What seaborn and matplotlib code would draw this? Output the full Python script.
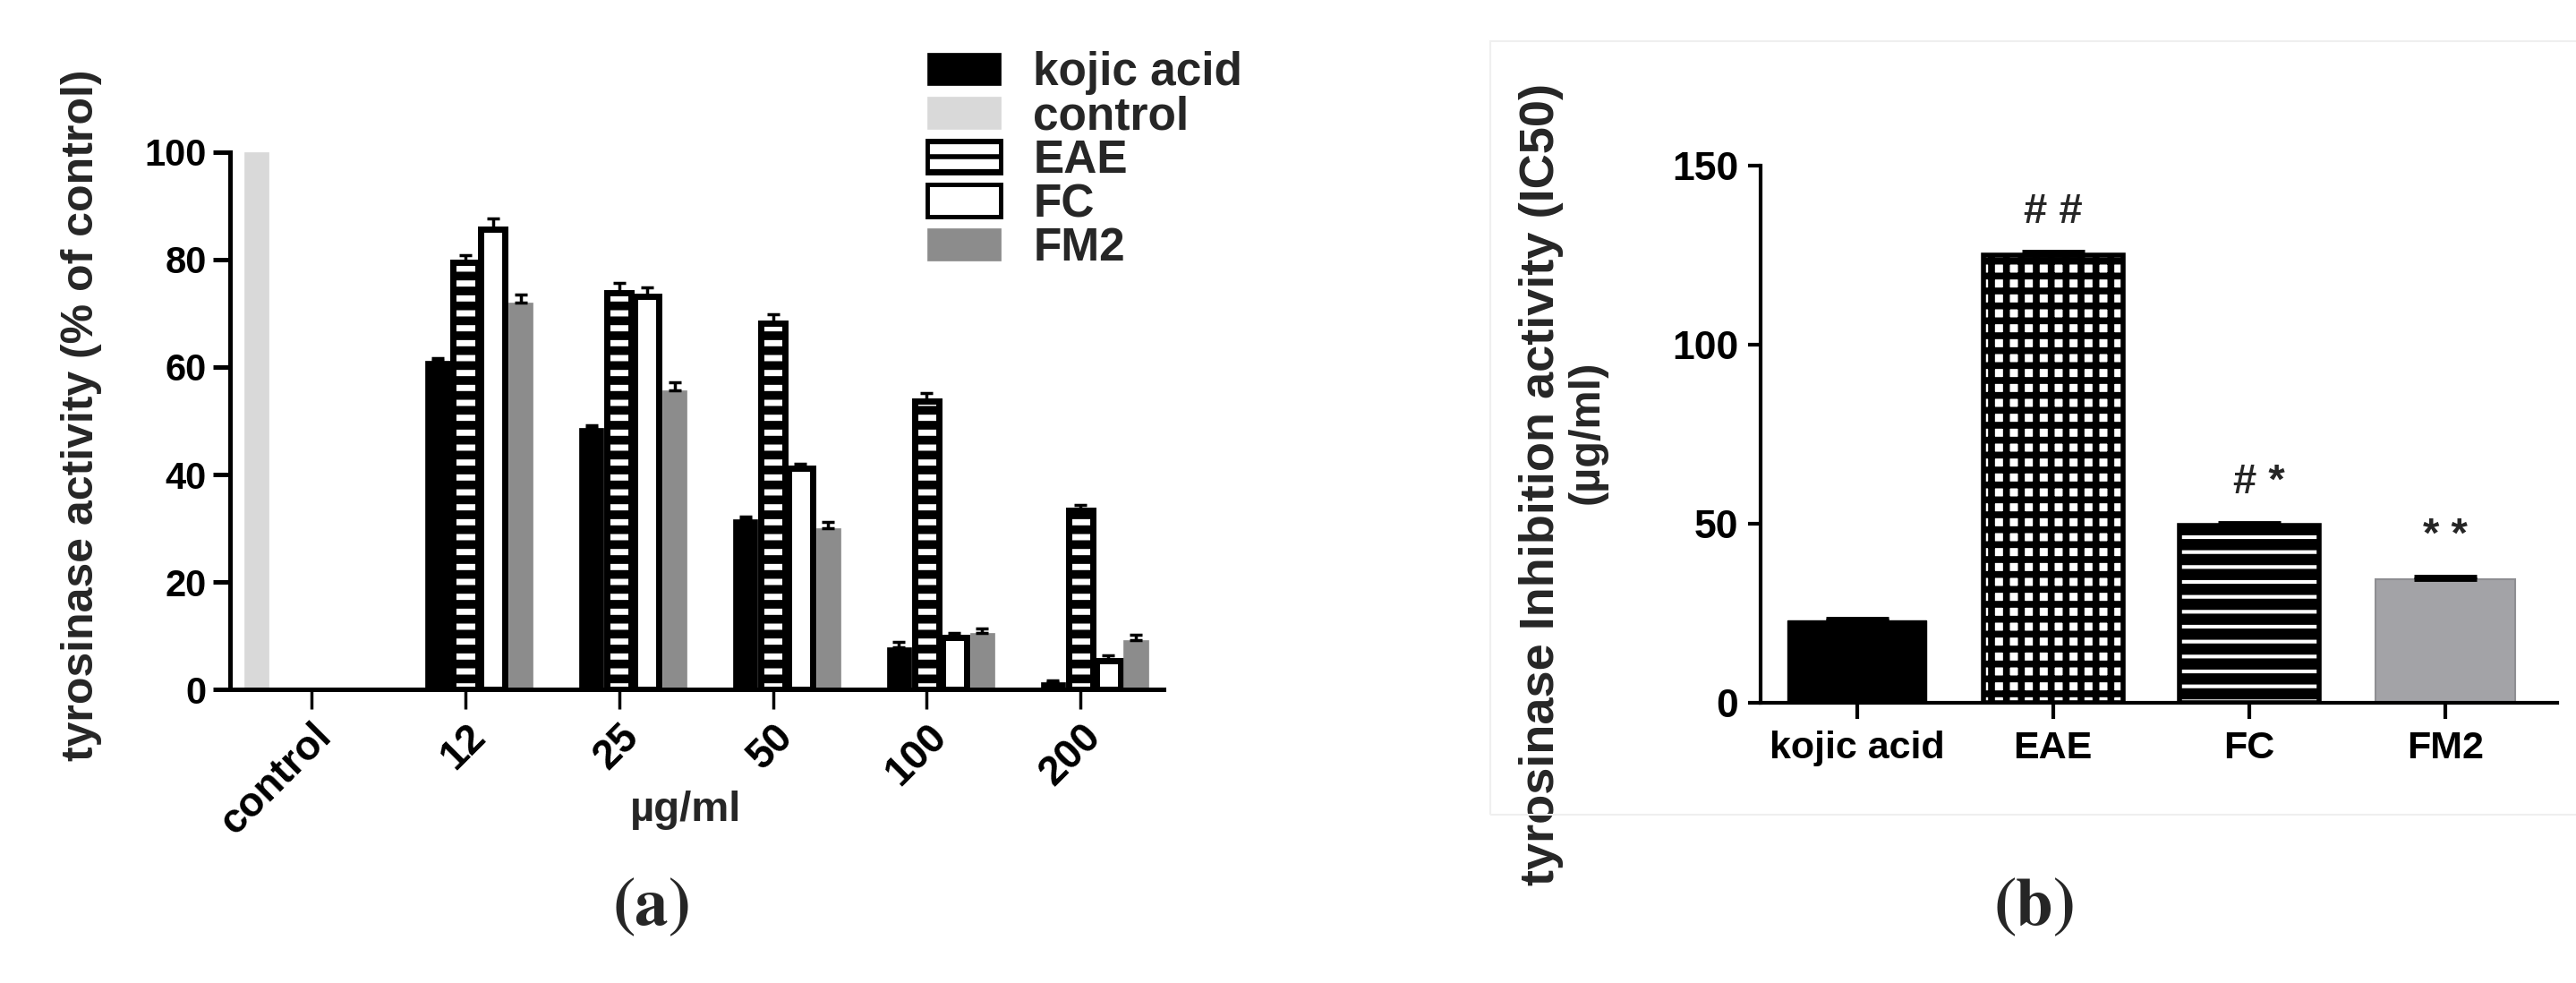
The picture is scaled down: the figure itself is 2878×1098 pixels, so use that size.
import numpy as np
import pandas as pd
import seaborn as sns
import matplotlib.pyplot as plt
import matplotlib.patches as mpatches
from matplotlib import font_manager

# panel (a): tyrosinase activity (% of control) per dose
doses = ["12", "25", "50", "100", "200"]
kojic_act = [61.2, 48.6, 31.7, 7.8, 1.3]
eae_act = [79.5, 73.9, 68.1, 53.6, 33.3]
fc_act = [85.7, 73.1, 41.2, 9.7, 5.4]
fm2_act = [72.0, 55.6, 30.0, 10.5, 9.2]
kojic_err = [0.5, 0.6, 0.5, 1.0, 0.3]
eae_err = [1.3, 1.8, 1.8, 1.5, 1.0]
fc_err = [2.0, 1.8, 0.8, 0.8, 1.0]
fm2_err = [1.5, 1.6, 1.2, 0.8, 1.0]
control_act = 100.0

# panel (b): IC50
samples = ["kojic acid", "EAE", "FC", "FM2"]
ic50 = [23.0, 125.0, 49.5, 34.5]
ic50_err = [0.5, 1.0, 0.8, 0.8]
marks = ["", "# #", "# *", "* *"]

sns.set_theme(style="ticks")
installed = {f.name for f in font_manager.fontManager.ttflist}
SANS = "Liberation Sans" if "Liberation Sans" in installed else "DejaVu Sans"
NARROW = "Liberation Sans Narrow" if "Liberation Sans Narrow" in installed else SANS
plt.rcParams["font.family"] = [SANS, "DejaVu Sans"]
plt.rcParams["font.weight"] = "bold"
plt.rcParams["mathtext.fontset"] = "stix"
plt.rcParams["hatch.linewidth"] = 4.0


def hatch_lw(patch, lw):
    if hasattr(patch, "set_hatch_linewidth"):
        patch.set_hatch_linewidth(lw)


# long table for panel (a)
rows = [{"dose": "control", "sample": "control", "activity": control_act, "err": 0.0}]
for name, vals, errs in [("kojic acid", kojic_act, kojic_err), ("EAE", eae_act, eae_err),
                         ("FC", fc_act, fc_err), ("FM2", fm2_act, fm2_err)]:
    for d, v, e in zip(doses, vals, errs):
        rows.append({"dose": d, "sample": name, "activity": v, "err": e})
df_a = pd.DataFrame(rows)

hue_order = ["control", "kojic acid", "EAE", "FC", "FM2"]
legend_order = ["kojic acid", "control", "EAE", "FC", "FM2"]
style_a = {
    "kojic acid": dict(facecolor="black", edgecolor="black", linewidth=0.5, hatch=None, hlw=1),
    "control": dict(facecolor="#d9d9d9", edgecolor="#d9d9d9", linewidth=0.5, hatch=None, hlw=1),
    "EAE": dict(facecolor="white", edgecolor="black", linewidth=5.0, hatch="-", hlw=7.0),
    "FC": dict(facecolor="white", edgecolor="black", linewidth=5.0, hatch=None, hlw=1),
    "FM2": dict(facecolor="#8c8c8c", edgecolor="#8c8c8c", linewidth=0.5, hatch=None, hlw=1),
}

fig = plt.figure(figsize=(28.78, 10.98), dpi=100)
ax_a = fig.add_axes([0.0893, 0.2987, 0.3624, 0.5465])
ax_b = fig.add_axes([0.6835, 0.285, 0.3092, 0.5465])

sns.barplot(data=df_a, x="dose", y="activity", hue="sample",
            order=["control"] + doses, hue_order=hue_order,
            palette={k: v["facecolor"] for k, v in style_a.items()},
            width=0.9, gap=0.12, errorbar=None, saturation=1, legend=False, ax=ax_a)

for container, name in zip(ax_a.containers, hue_order):
    st = style_a[name]
    sub = df_a[df_a["sample"] == name]
    for p in container:
        p.set_edgecolor(st["edgecolor"])
        p.set_linewidth(st["linewidth"])
        if st["hatch"]:
            p.set_hatch(st["hatch"])
            hatch_lw(p, st["hlw"])
    xs = [p.get_x() + p.get_width() / 2 for p in container]
    hs = [p.get_height() for p in container]
    errs = sub["err"].to_numpy()
    if errs.sum() > 0:
        ax_a.errorbar(xs, hs, yerr=[np.zeros_like(errs), errs], fmt="none",
                      ecolor="black", elinewidth=2.5, capsize=5, capthick=2.5, zorder=1)

ax_a.set_ylim(0, 100)
ax_a.set_yticks(range(0, 101, 20))
ax_a.set_xlim(-0.53, 5.54)
sns.despine(ax=ax_a)
for s in ["left", "bottom"]:
    ax_a.spines[s].set_linewidth(3.6)
    ax_a.spines[s].set_color("black")
ax_a.tick_params(axis="y", length=14, width=3.6, labelsize=30, pad=5, colors="black")
ax_a.tick_params(axis="x", length=16, width=2.5, labelsize=33, pad=6, colors="black")
for lab in ax_a.get_xticklabels():
    lab.set_rotation(45)
    lab.set_ha("right")
    lab.set_rotation_mode("anchor")
    lab.set_fontweight("bold")
for lab in ax_a.get_yticklabels():
    lab.set_fontweight("bold")
ax_a.set_ylabel("tyrosinase activity (% of control)", fontsize=36, fontweight="bold", va="center")
ax_a.yaxis.set_label_coords(-0.159, 0.51)
ax_a.set_xlabel("µg/ml", fontsize=34, fontweight="bold", va="center")
ax_a.xaxis.set_label_coords(0.488, -0.225)

handles = []
for name in legend_order:
    st = style_a[name]
    h = mpatches.Patch(facecolor=st["facecolor"], edgecolor=st["edgecolor"],
                       linewidth=min(st["linewidth"], 3.5), hatch=st["hatch"])
    hatch_lw(h, 4.0)
    handles.append(h)
fig.legend(handles, legend_order, loc="upper left", bbox_to_anchor=(0.360, 0.948),
           frameon=False, handlelength=1.6, handleheight=0.7, handletextpad=0.7,
           labelspacing=0.0, borderpad=0, borderaxespad=0,
           prop=dict(family=SANS, weight="bold", size=37))

# panel (b)
style_b = {
    "kojic acid": dict(facecolor="black", edgecolor="black", linewidth=1, hatch=None, hlw=1),
    "EAE": dict(facecolor="white", edgecolor="black", linewidth=4.0, hatch="+", hlw=5.5),
    "FC": dict(facecolor="white", edgecolor="black", linewidth=4.0, hatch="-", hlw=9.0),
    "FM2": dict(facecolor="#a3a3a7", edgecolor="#8e8e92", linewidth=1.5, hatch=None, hlw=1),
}
df_b = pd.DataFrame({"sample": samples, "ic50": ic50, "err": ic50_err})
sns.barplot(data=df_b, x="sample", y="ic50", hue="sample", order=samples, hue_order=samples,
            palette={k: v["facecolor"] for k, v in style_b.items()},
            width=0.71, errorbar=None, saturation=1, legend=False, ax=ax_b)
for p, name in zip(ax_b.patches, samples):
    st = style_b[name]
    p.set_edgecolor(st["edgecolor"])
    p.set_linewidth(st["linewidth"])
    if st["hatch"]:
        p.set_hatch(st["hatch"])
        hatch_lw(p, st["hlw"])

xb = [p.get_x() + p.get_width() / 2 for p in ax_b.patches]
hb = [p.get_height() for p in ax_b.patches]
ax_b.errorbar(xb, hb, yerr=[np.zeros(len(ic50_err)), ic50_err], fmt="none",
              ecolor="black", elinewidth=3.5, capsize=25, capthick=3.5)
for x, h, m in zip(xb, hb, marks):
    if m:
        ax_b.text(x + (0.05 if "#" in m and "*" in m else 0), h + 12, m, ha="center", va="center",
                  fontsize=34, fontweight="bold", family=NARROW)

ax_b.set_ylim(0, 150)
ax_b.set_yticks([0, 50, 100, 150])
ax_b.set_xlim(-0.49, 3.57)
sns.despine(ax=ax_b)
for s in ["left", "bottom"]:
    ax_b.spines[s].set_linewidth(3.0)
    ax_b.spines[s].set_color("black")
ax_b.tick_params(axis="y", length=10, width=3, labelsize=32, pad=8, colors="black")
ax_b.tick_params(axis="x", length=13, width=3, labelsize=31, pad=9, colors="black")
for lab in ax_b.get_xticklabels() + ax_b.get_yticklabels():
    lab.set_family(NARROW)
    lab.set_fontweight("bold")
ax_b.set_xlabel("")
ax_b.set_ylabel("tyrosinase Inhibition activity (IC50)", fontsize=39,
                fontweight="bold", va="center")
ax_b.yaxis.set_label_coords(-0.276, 0.407)
ax_b.text(-0.218, 0.503, "(µg/ml)", transform=ax_b.transAxes, rotation=90,
          ha="center", va="center", fontsize=35, fontweight="bold")

# faint frame around panel (b)
fig.patches.append(mpatches.Rectangle((1665 / 2878, 1 - 910 / 1098), 1.0, 864 / 1098,
                                      transform=fig.transFigure, fill=False,
                                      edgecolor="#efefef", linewidth=1.5))

fig.text(727 / 2878, 1 - 1013 / 1098, r"$(\mathbf{a})$", ha="center", va="center", fontsize=54)
fig.text(2272 / 2878, 1 - 1013 / 1098, r"$(\mathbf{b})$", ha="center", va="center", fontsize=54)

fig.savefig("out.png", dpi=100, facecolor="white")
